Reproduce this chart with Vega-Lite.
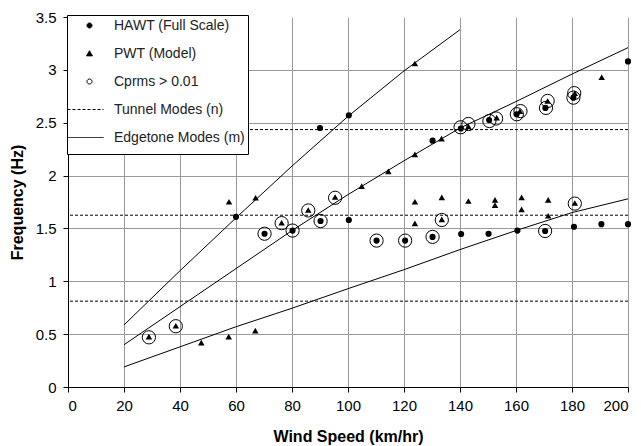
{
  "$schema": "https://vega.github.io/schema/vega-lite/v6.json",
  "width": 560,
  "height": 370,
  "autosize": "none",
  "padding": {"left": 68, "top": 17, "right": 13, "bottom": 59},
  "background": "white",
  "config": {
    "view": {"stroke": null},
    "font": "Liberation Sans",
    "axis": {
      "labelFont": "Liberation Sans",
      "labelFontSize": 15,
      "labelColor": "black",
      "titleFont": "Liberation Sans",
      "titleFontSize": 16,
      "titleFontWeight": "bold",
      "titleColor": "black",
      "gridColor": "#9a9a9a",
      "gridOpacity": 1,
      "gridWidth": 1,
      "domainColor": "black",
      "tickColor": "black",
      "tickSize": 5
    }
  },
  "datasets": {
    "legendkey": [
      {"series": "HAWT (Full Scale)", "x": 100, "y": 1},
      {"series": "PWT (Model)", "x": 100, "y": 1},
      {"series": "Cprms > 0.01", "x": 100, "y": 1},
      {"series": "Tunnel Modes (n)", "x": 100, "y": 1},
      {"series": "Edgetone Modes (m)", "x": 100, "y": 1}
    ],
    "tunnel": [
      {"n": 1, "f": 0.812},
      {"n": 2, "f": 1.625},
      {"n": 3, "f": 2.435}
    ],
    "edgetone": [
      {"m": 1, "speed": 20, "f": 0.587},
      {"m": 1, "speed": 40, "f": 1.10},
      {"m": 1, "speed": 60, "f": 1.60},
      {"m": 1, "speed": 80, "f": 2.09},
      {"m": 1, "speed": 100, "f": 2.56},
      {"m": 1, "speed": 120, "f": 2.99},
      {"m": 1, "speed": 140, "f": 3.38},
      {"m": 2, "speed": 20, "f": 0.40},
      {"m": 2, "speed": 40, "f": 0.76},
      {"m": 2, "speed": 60, "f": 1.12},
      {"m": 2, "speed": 80, "f": 1.48},
      {"m": 2, "speed": 100, "f": 1.82},
      {"m": 2, "speed": 120, "f": 2.14},
      {"m": 2, "speed": 140, "f": 2.45},
      {"m": 2, "speed": 160, "f": 2.70},
      {"m": 2, "speed": 180, "f": 2.96},
      {"m": 2, "speed": 200, "f": 3.21},
      {"m": 3, "speed": 20, "f": 0.19},
      {"m": 3, "speed": 40, "f": 0.38},
      {"m": 3, "speed": 60, "f": 0.57},
      {"m": 3, "speed": 80, "f": 0.745},
      {"m": 3, "speed": 100, "f": 0.93},
      {"m": 3, "speed": 120, "f": 1.11},
      {"m": 3, "speed": 140, "f": 1.30},
      {"m": 3, "speed": 160, "f": 1.48},
      {"m": 3, "speed": 180, "f": 1.65},
      {"m": 3, "speed": 200, "f": 1.78}
    ],
    "hawt": [
      {"speed": 60, "f": 1.61},
      {"speed": 90, "f": 2.45},
      {"speed": 100.3, "f": 2.57},
      {"speed": 70.2, "f": 1.45},
      {"speed": 80.2, "f": 1.48},
      {"speed": 90.2, "f": 1.57},
      {"speed": 100.3, "f": 1.58},
      {"speed": 110.2, "f": 1.385},
      {"speed": 120.4, "f": 1.385},
      {"speed": 130.2, "f": 1.42},
      {"speed": 140.4, "f": 1.447},
      {"speed": 150.2, "f": 1.45},
      {"speed": 160.5, "f": 1.48},
      {"speed": 170.4, "f": 1.476},
      {"speed": 180.7, "f": 1.516},
      {"speed": 190.5, "f": 1.54},
      {"speed": 200, "f": 1.54},
      {"speed": 130.2, "f": 2.33},
      {"speed": 140.3, "f": 2.445},
      {"speed": 150.4, "f": 2.526},
      {"speed": 160.2, "f": 2.58},
      {"speed": 170.5, "f": 2.64},
      {"speed": 180.5, "f": 2.737},
      {"speed": 200, "f": 3.08}
    ],
    "pwt": [
      {"speed": 28.9, "f": 0.476},
      {"speed": 38.5, "f": 0.58},
      {"speed": 47.6, "f": 0.42},
      {"speed": 57.4, "f": 0.476},
      {"speed": 66.9, "f": 0.533},
      {"speed": 57.5, "f": 1.753},
      {"speed": 67, "f": 1.79},
      {"speed": 76.3, "f": 1.554},
      {"speed": 85.8, "f": 1.674},
      {"speed": 95.4, "f": 1.797},
      {"speed": 104.9, "f": 1.90},
      {"speed": 114.4, "f": 2.04},
      {"speed": 123.9, "f": 2.20},
      {"speed": 133.4, "f": 2.35},
      {"speed": 143, "f": 2.465},
      {"speed": 153.1, "f": 2.548},
      {"speed": 161.4, "f": 2.61},
      {"speed": 171.3, "f": 2.706},
      {"speed": 181, "f": 2.78},
      {"speed": 190.6, "f": 2.93},
      {"speed": 123.9, "f": 3.06},
      {"speed": 123.9, "f": 1.753},
      {"speed": 123.9, "f": 1.548},
      {"speed": 133.5, "f": 1.794},
      {"speed": 133.5, "f": 1.586},
      {"speed": 143, "f": 1.76},
      {"speed": 152.5, "f": 1.77},
      {"speed": 152.5, "f": 1.72},
      {"speed": 162, "f": 1.794},
      {"speed": 162, "f": 1.68},
      {"speed": 171.5, "f": 1.77},
      {"speed": 171.5, "f": 1.62},
      {"speed": 181, "f": 1.74}
    ],
    "cprms": [
      {"speed": 28.9, "f": 0.47},
      {"speed": 38.5, "f": 0.575},
      {"speed": 70.2, "f": 1.45},
      {"speed": 76.3, "f": 1.55},
      {"speed": 80.2, "f": 1.48},
      {"speed": 85.8, "f": 1.67},
      {"speed": 90.2, "f": 1.57},
      {"speed": 95.4, "f": 1.79},
      {"speed": 110.2, "f": 1.385},
      {"speed": 120.4, "f": 1.385},
      {"speed": 130.2, "f": 1.42},
      {"speed": 133.5, "f": 1.58},
      {"speed": 170.4, "f": 1.476},
      {"speed": 181, "f": 1.735},
      {"speed": 140.2, "f": 2.457},
      {"speed": 143, "f": 2.488},
      {"speed": 150.5, "f": 2.516},
      {"speed": 152.9, "f": 2.54},
      {"speed": 160.3, "f": 2.58},
      {"speed": 161.6, "f": 2.61},
      {"speed": 170.7, "f": 2.64},
      {"speed": 171.3, "f": 2.706},
      {"speed": 180.5, "f": 2.737},
      {"speed": 180.8, "f": 2.78}
    ]
  },
  "layer": [
    {
      "data": {"name": "tunnel"},
      "mark": {"type": "rule", "color": "black", "strokeWidth": 1, "strokeDash": [3, 2]},
      "encoding": {
        "y": {"field": "f", "type": "quantitative", "scale": {"domain": [0, 3.5], "nice": false, "zero": true},
              "axis": {"values": [0, 0.5, 1, 1.5, 2, 2.5, 3, 3.5], "format": "~g", "title": "Frequency (Hz)", "labelPadding": 7, "titlePadding": 10,
                       "gridColor": {"condition": {"test": "datum.value >= 3.5", "value": "transparent"}, "value": "#9a9a9a"}}}
      }
    },
    {
      "data": {"name": "edgetone"},
      "mark": {"type": "line", "color": "black", "strokeWidth": 1},
      "encoding": {
        "x": {"field": "speed", "type": "quantitative", "scale": {"domain": [0, 200], "nice": false},
              "axis": {"values": [0, 20, 40, 60, 80, 100, 120, 140, 160, 180, 200], "title": "Wind Speed (km/hr)", "labelPadding": 6, "titlePadding": 15}},
        "y": {"field": "f", "type": "quantitative"},
        "detail": {"field": "m", "type": "nominal"}
      }
    },
    {
      "data": {"name": "hawt"},
      "mark": {"type": "point", "shape": "circle", "filled": true, "color": "black", "size": 38, "opacity": 1},
      "encoding": {
        "x": {"field": "speed", "type": "quantitative"},
        "y": {"field": "f", "type": "quantitative"}
      }
    },
    {
      "data": {"name": "pwt"},
      "mark": {"type": "point", "shape": "triangle-up", "filled": true, "color": "black", "size": 42, "opacity": 1},
      "encoding": {
        "x": {"field": "speed", "type": "quantitative"},
        "y": {"field": "f", "type": "quantitative"}
      }
    },
    {
      "data": {"name": "cprms"},
      "mark": {"type": "point", "shape": "circle", "filled": false, "color": "black", "strokeWidth": 1, "size": 175, "opacity": 1},
      "encoding": {
        "x": {"field": "speed", "type": "quantitative"},
        "y": {"field": "f", "type": "quantitative"}
      }
    },
    {
      "data": {"name": "legendkey"},
      "mark": {"type": "point", "opacity": 0},
      "encoding": {
        "x": {"field": "x", "type": "quantitative"},
        "y": {"field": "y", "type": "quantitative"},
        "shape": {
          "field": "series", "type": "nominal",
          "scale": {
            "domain": ["HAWT (Full Scale)", "PWT (Model)", "Cprms > 0.01", "Tunnel Modes (n)", "Edgetone Modes (m)"],
            "range": [
              "M0.36,0A0.36,0.36,0,1,1,-0.36,0A0.36,0.36,0,1,1,0.36,0Z",
              "M0,-0.4L0.42,0.34L-0.42,0.34Z",
              "M0.36,0A0.36,0.36,0,1,1,-0.36,0A0.36,0.36,0,1,1,0.36,0Z",
              "M-3.14,0H2",
              "M-3.14,0H2"
            ]
          },
          "legend": {
            "orient": "none",
            "legendX": -1,
            "legendY": -2,
            "title": " ",
            "titleOrient": "bottom",
            "titleFontSize": 5,
            "titlePadding": 1,
            "fillColor": "white",
            "strokeColor": "black",
            "padding": 3,
            "symbolSize": 196,
            "symbolOffset": 12,
            "labelOffset": 17,
            "rowPadding": 13,
            "symbolOpacity": 1,
            "symbolStrokeWidth": 1,
            "labelFont": "Liberation Sans",
            "labelFontSize": 14,
            "labelColor": "#222",
            "labelLimit": 300
          }
        },
        "fill": {
          "field": "series", "type": "nominal",
          "scale": {
            "domain": ["HAWT (Full Scale)", "PWT (Model)", "Cprms > 0.01", "Tunnel Modes (n)", "Edgetone Modes (m)"],
            "range": ["black", "black", "white", "black", "black"]
          }
        },
        "stroke": {
          "field": "series", "type": "nominal",
          "scale": {
            "domain": ["HAWT (Full Scale)", "PWT (Model)", "Cprms > 0.01", "Tunnel Modes (n)", "Edgetone Modes (m)"],
            "range": ["black", "black", "black", "black", "black"]
          }
        },
        "strokeDash": {
          "field": "series", "type": "nominal",
          "scale": {
            "domain": ["HAWT (Full Scale)", "PWT (Model)", "Cprms > 0.01", "Tunnel Modes (n)", "Edgetone Modes (m)"],
            "range": [[1, 0], [1, 0], [1, 0], [3, 2], [1, 0]]
          }
        }
      }
    }
  ]
}
